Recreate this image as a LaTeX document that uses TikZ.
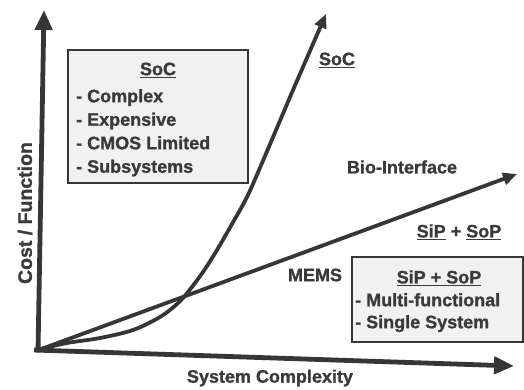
\documentclass[tikz,border=0pt]{standalone}
\usepackage{fontspec}
\setmainfont{Liberation Sans}[BoldFeatures={FakeBold=1.2}]
\usetikzlibrary{arrows.meta}
\definecolor{ink}{HTML}{363636}
\definecolor{txt}{HTML}{3A3A3A}
\definecolor{boxfill}{HTML}{F1F1F1}
\tikzset{
  axisline/.style={draw=ink, line width=4.8pt, -{Triangle[length=20pt,width=17pt]}},
  curveline/.style={draw=ink, line width=3.8pt, -{Triangle[length=14pt,width=12pt]}},
  infobox/.style={draw=ink, line width=1.3pt, fill=boxfill},
  lbl/.style={text=txt, font=\bfseries\fontsize{18}{22}\selectfont, inner sep=0pt},
  boxtext/.style={lbl, align=left, anchor=north west},
}
\begin{document}
\begin{tikzpicture}[x=1pt,y=-1pt]
\useasboundingbox (0,0) rectangle (524,390);
% axes
\coordinate (O) at (36,351);
\coordinate (ytip) at (44,10);
\coordinate (xtip) at (514,366);
\coordinate (ltip) at (517,174);
\coordinate (stip) at (326,14);
% boxes
\draw[infobox] (68,50) rectangle (248,183);
\draw[infobox] (352,257) rectangle (523,342);
% curves
\draw[curveline] (O) -- (ltip);
\draw[curveline] plot[smooth, tension=0.55] coordinates {(36,350) (67,343) (100,338) (133,330) (160,317) (177,304) (188,292) (203,272) (217,250) (232,224) (247,197) (262,163) (293,90)} -- (stip);
\draw[axisline] (38,352) -- (ytip);
\draw[axisline] (34,350) -- (xtip);
% axis titles
\node[lbl, rotate=90, font=\bfseries\fontsize{19.5}{22}\selectfont] (ytitle) at (25,213) {Cost / Function};
\node[lbl] (xtitle) at (270,378) {System Complexity};
% labels
\node[lbl] (soclbl) at (337,60) {\underline{SoC}};
\node[lbl] (biolbl) at (402,167) {Bio-Interface};
\node[lbl] (siplbl) at (459,232) {\underline{SiP} + \underline{SoP}};
\node[lbl] (memslbl) at (315,275) {MEMS};
% box texts
\node[lbl] (soctitle) at (158,70) {\underline{SoC}};
\node[boxtext, font=\bfseries\fontsize{18}{23.5}\selectfont] (soclist) at (76,89) {- Complex\\- Expensive\\- CMOS Limited\\- Subsystems};
\node[lbl] (siptitle) at (439,278) {\underline{SiP + SoP}};
\node[boxtext] (siplist) at (355,293) {- Multi-functional\\- Single System};
\end{tikzpicture}
\end{document}
